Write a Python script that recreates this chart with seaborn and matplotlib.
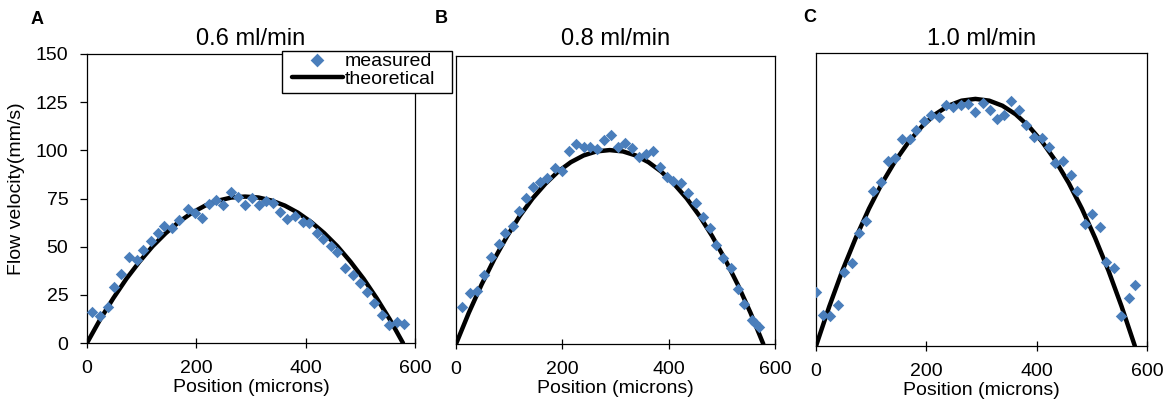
import numpy as np
import pandas as pd
import matplotlib
matplotlib.use("Agg")
import matplotlib.pyplot as plt
from matplotlib.patches import Rectangle
import seaborn as sns

# ---------------- data ----------------
panel_letters = ["A", "B", "C"]
flow_rates = ["0.6 ml/min", "0.8 ml/min", "1.0 ml/min"]

pos_a = [10, 24, 39, 50, 63, 77, 91, 103, 117, 129, 141, 155, 169, 184, 198, 210, 224, 236, 248, 263,
         277, 289, 301, 315, 327, 340, 353, 366, 380, 395, 407, 420, 432, 446, 458, 472, 486, 499, 513,
         525, 539, 553, 567, 580]
vel_a = [16.2, 14.0, 18.8, 29.2, 35.6, 44.5, 43.1, 48.3, 52.9, 56.9, 60.9, 59.5, 63.8, 69.5, 67.3, 64.7,
         72.1, 74.2, 71.6, 78.5, 75.9, 71.6, 75.1, 71.6, 73.7, 72.5, 68.1, 64.4, 66.1, 63.0, 62.1, 56.9,
         53.8, 50.3, 47.4, 38.8, 35.3, 31.0, 26.6, 20.9, 14.5, 9.3, 11.1, 9.9]

pos_b = [12, 26, 40, 53, 66, 80, 93, 107, 119, 132, 145, 158, 172, 186, 200, 213, 226, 240, 252, 265,
         278, 292, 304, 318, 331, 344, 357, 370, 384, 396, 409, 423, 437, 451, 464, 477, 489, 503, 517,
         530, 542, 556, 562, 570]
vel_b = [19.4, 26.7, 27.6, 35.8, 45.3, 51.9, 58.0, 61.5, 69.3, 75.9, 81.8, 84.6, 86.6, 91.9, 90.1, 100.5,
         104.0, 102.6, 102.6, 101.7, 106.1, 108.7, 102.6, 104.9, 102.3, 97.4, 98.8, 100.5, 92.2, 87.0,
         84.9, 84.0, 78.8, 73.6, 66.3, 60.6, 51.6, 45.0, 39.4, 28.5, 20.7, 12.3, 11.1, 8.9]

pos_c = [0, 12, 25, 39, 51, 65, 78, 91, 104, 117, 130, 143, 156, 170, 182, 196, 208, 223, 235, 249,
         262, 276, 289, 302, 315, 328, 341, 354, 368, 381, 395, 409, 422, 434, 448, 462, 474, 487, 500,
         514, 526, 541, 553, 567, 579]
vel_c = [27.5, 15.9, 15.4, 21.0, 37.8, 42.4, 58.1, 64.2, 79.6, 84.2, 94.8, 96.2, 105.9, 105.9, 110.7,
         115.0, 118.4, 117.2, 123.5, 122.6, 123.5, 124.0, 119.6, 124.4, 121.0, 116.2, 118.4, 125.2, 121.0,
         113.3, 107.0, 106.4, 102.1, 93.6, 94.5, 87.6, 79.6, 62.5, 67.7, 60.8, 43.2, 39.8, 15.4, 24.8, 31.3]

theory_pos = [0, 24, 48, 72, 96, 120, 144, 168, 192, 216, 240, 264, 289,
              314, 338, 362, 386, 410, 434, 458, 482, 506, 530, 554, 578]
theory_a = [0, 12.2, 23.2, 33.3, 42.2, 50.2, 57.0, 62.8, 67.6, 71.3, 73.9, 75.5, 76.0,
            75.5, 73.9, 71.3, 67.6, 62.8, 57.0, 50.2, 42.2, 33.3, 23.2, 12.2, 0]
theory_b = [0, 16.2, 30.9, 44.2, 56.1, 66.7, 75.8, 83.4, 89.8, 94.7, 98.2, 100.3, 101.0,
            100.3, 98.2, 94.7, 89.8, 83.4, 75.8, 66.7, 56.1, 44.2, 30.9, 16.2, 0]
theory_c = [0, 20.2, 38.7, 55.3, 70.3, 83.5, 94.9, 104.5, 112.4, 118.6, 123.0, 125.6, 126.5,
            125.6, 123.0, 118.6, 112.4, 104.5, 94.9, 83.5, 70.3, 55.3, 38.7, 20.2, 0]

x_ticks = [0, 200, 400, 600]
y_ticks = [0, 25, 50, 75, 100, 125, 150]

measured = [(pos_a, vel_a), (pos_b, vel_b), (pos_c, vel_c)]
theory = [theory_a, theory_b, theory_c]

# ---------------- style ----------------
sns.set_style("ticks")
plt.rcParams["font.family"] = ["Liberation Sans", "DejaVu Sans"]
plt.rcParams.update({
    "axes.edgecolor": "black", "axes.linewidth": 0.9,
    "text.color": "black", "axes.labelcolor": "black",
    "xtick.color": "black", "ytick.color": "black",
})

W, H = 1176, 405
fig = plt.figure(figsize=(W / 100, H / 100), dpi=100)

# axes rectangles in pixels: left, top, right, bottom
rects_px = [(87, 54, 415, 343), (456, 56, 775, 344), (816, 53, 1147, 346)]
letter_px = [(37.5, 19), (441.5, 18.5), (810, 18)]
marker_color = "#4A7EBB"

axes = []
for i, (l, t, r, b) in enumerate(rects_px):
    ax = fig.add_axes([l / W, 1 - b / H, (r - l) / W, (b - t) / H])
    axes.append(ax)
    df_t = pd.DataFrame({"Position": theory_pos, "Velocity": theory[i]})
    df_m = pd.DataFrame({"Position": measured[i][0], "Velocity": measured[i][1]})
    sns.lineplot(data=df_t, x="Position", y="Velocity", ax=ax, color="black",
                 linewidth=3.2, label="theoretical", zorder=2, legend=False)
    sns.scatterplot(data=df_m, x="Position", y="Velocity", ax=ax, color=marker_color,
                    marker="D", s=34, linewidth=0, label="measured", zorder=3, legend=False)
    ax.set_xlim(0, 600)
    ax.set_ylim(0, 150)
    ax.set_xticks(x_ticks)
    ax.tick_params(axis="x", direction="inout", length=7, width=0.9, labelsize=14,
                   pad=9, color="black", labelcolor="black")
    ax.set_xlabel("Position (microns)", fontsize=14, labelpad=1.5, color="black")
    ax.set_yticks(y_ticks)
    if i == 0:
        ax.tick_params(axis="y", direction="out", length=5, width=0.9, labelsize=14,
                       pad=8.5, color="black", labelcolor="black")
        ax.set_ylabel("Flow velocity(mm/s)", fontsize=14, color="black")
        ax.yaxis.set_label_coords((25 - l) / (r - l), (b - 189) / (b - t))
    else:
        ax.tick_params(axis="y", left=False, labelleft=False)
        ax.set_ylabel("")
    for sp in ax.spines.values():
        sp.set_visible(True)
        sp.set_color("black")
        sp.set_linewidth(0.9)
    ax.set_title(flow_rates[i], fontsize=17, pad=(t - 45) * 0.72, color="black")
    fig.text(letter_px[i][0] / W, 1 - letter_px[i][1] / H, panel_letters[i],
             fontsize=13, fontweight="bold", ha="center", va="center", color="black")

# legend (from panel A artists), placed over the A/B gap like the original
ax0 = axes[0]
handles, labels = ax0.get_legend_handles_labels()
order = [labels.index("measured"), labels.index("theoretical")]
frame = Rectangle((282 / W, 1 - 93 / H), 170 / W, 42 / H, transform=fig.transFigure,
                  fill=True, facecolor="white", edgecolor="black", linewidth=1.0, zorder=4)
fig.patches.append(frame)
leg = fig.legend([handles[k] for k in order], [labels[k] for k in order],
                 loc="upper left", bbox_to_anchor=(291 / W, 1 - 51 / H),
                 bbox_transform=fig.transFigure, frameon=False, fontsize=14,
                 borderpad=0.05, borderaxespad=0, labelspacing=0.05,
                 handlelength=2.6, handletextpad=0.12, markerscale=1.2)
leg.set_zorder(6)

fig.savefig("out.png", dpi=100)
